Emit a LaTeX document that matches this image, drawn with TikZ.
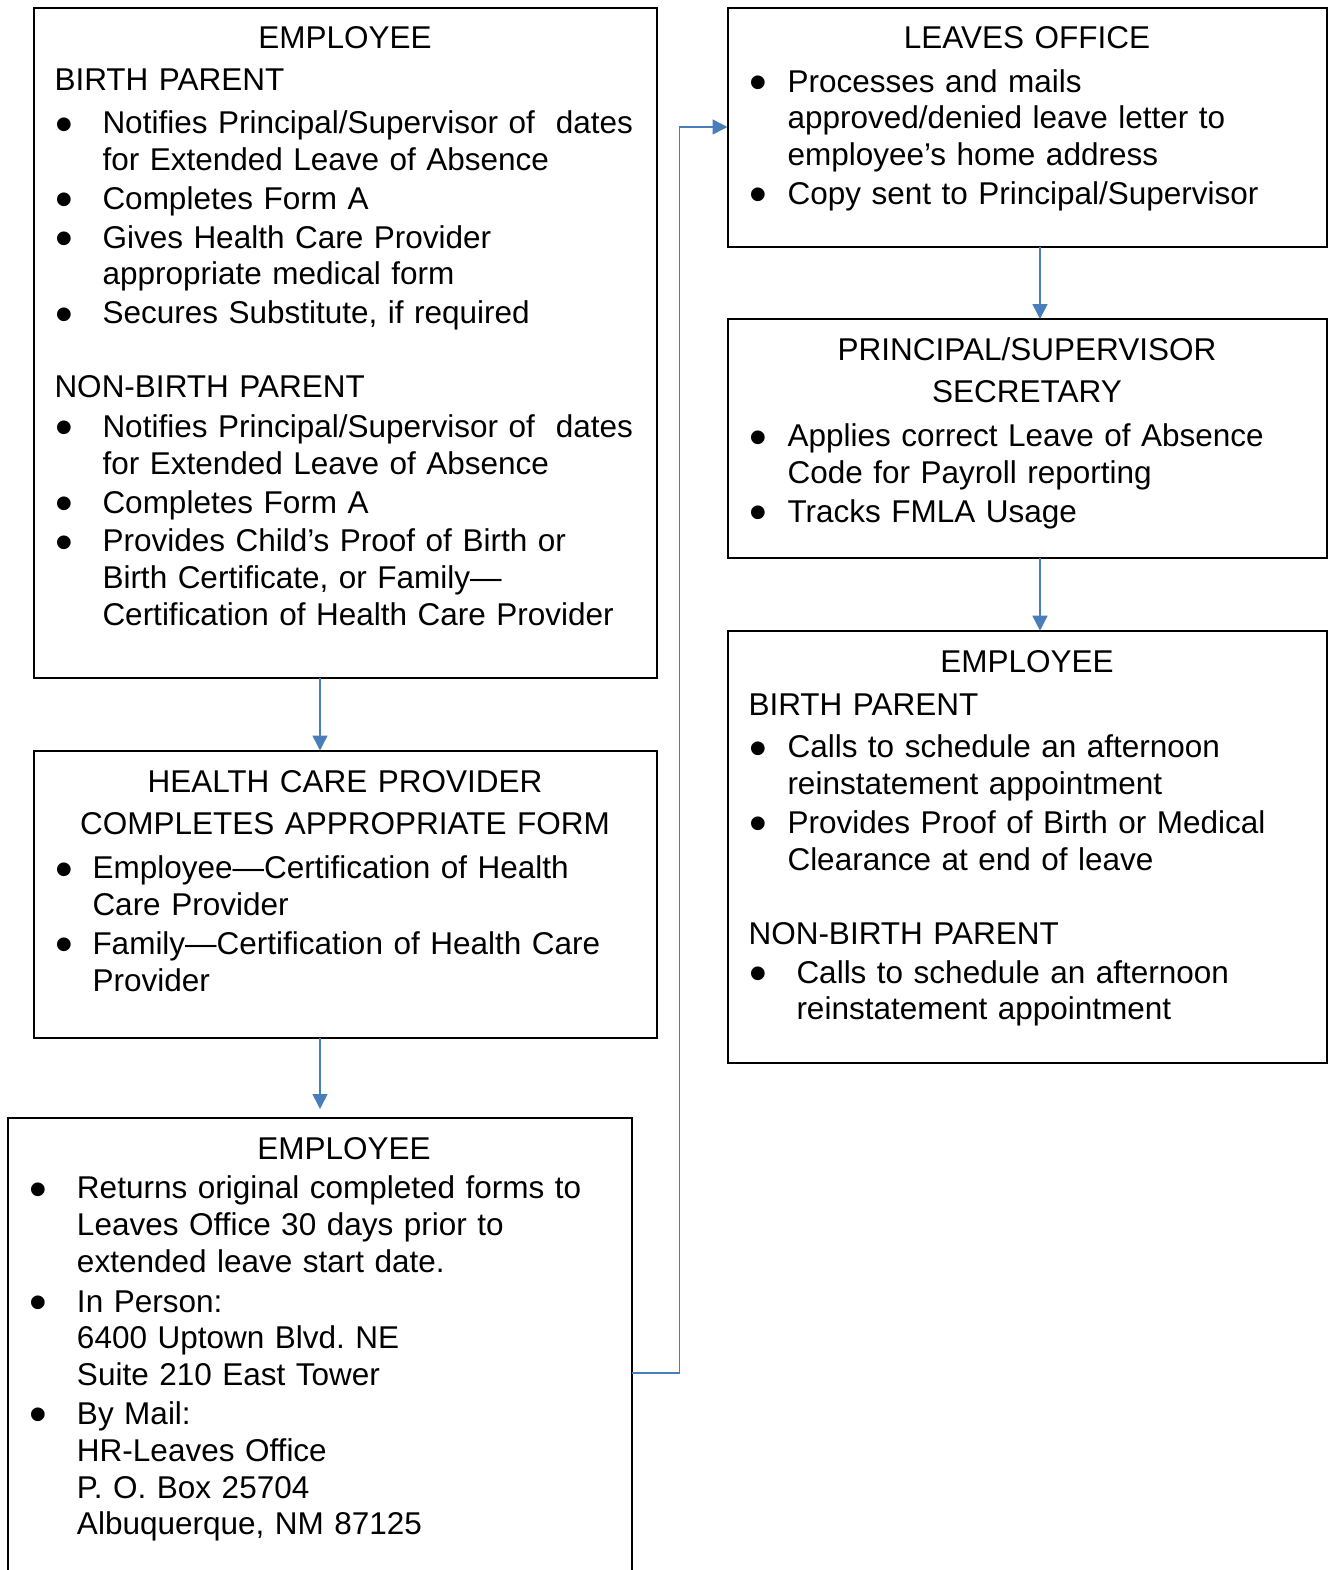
\documentclass[tikz,border=0pt]{standalone}
\usepackage{fontspec}
\setmainfont{Liberation Sans}
\usepackage{graphicx}
\usetikzlibrary{arrows.meta,positioning}
\definecolor{arrowblue}{RGB}{74,126,187}
\newcommand{\boxtitle}[2][0pt]{{\centering\leftskip=#1 plus 1fil\relax #2\par}}
\newcommand{\subhead}[1]{{\noindent #1\par}}
\newcommand{\bdot}{\hspace{0.4pt}\raisebox{-3.7pt}[6pt][0pt]{\scalebox{1.6}{\textbullet}}}
\newcommand{\bitem}[2]{{\hangindent=#1\hangafter=1\noindent\makebox[#1][l]{\bdot}#2\par}}
\begin{document}
\begin{tikzpicture}[x=0.5pt,y=-0.5pt,
    stepbox/.style={draw, line width=1pt, inner sep=0pt, outer sep=0pt, anchor=north west},
    txt/.style={anchor=base west, inner sep=0pt, outer sep=0pt, align=left, font={\fontsize{15.75}{18.4}\selectfont\frenchspacing}},
    flow/.style={draw=arrowblue, line width=0.75pt, -{Triangle[length=7.5pt,width=7.5pt]}}]
        \useasboundingbox (0,0) rectangle (1330,1570) ;
        \node[stepbox, minimum width=311.5pt, minimum height=335.25pt] (emp) at (33.5,7.5) {} ;
        \node[stepbox, minimum width=311.5pt, minimum height=143.75pt] (hcp) at (33.5,750.5) {} ;
        \node[stepbox, minimum width=312pt, minimum height=250pt] (ret) at (8,1118) {} ;
        \node[stepbox, minimum width=299.5pt, minimum height=119.5pt] (leaves) at (727.5,7.5) {} ;
        \node[stepbox, minimum width=299.5pt, minimum height=119.5pt] (sec) at (727.5,319) {} ;
        \node[stepbox, minimum width=299.5pt, minimum height=216pt] (back) at (727.5,630.7) {} ;
        \node[txt, text width=290.5pt] (empText) at ([shift={(21,40.5)}]emp.north west) {%
            \boxtitle{EMPLOYEE}
            \vspace{3pt}\subhead{BIRTH PARENT}
            \vspace{3pt}\bitem{24pt}{\mbox{Notifies Principal/Supervisor of\ \ dates}\newline for Extended Leave of Absence}
            \vspace{1pt}\bitem{24pt}{Completes Form A}
            \vspace{1pt}\bitem{24pt}{Gives Health Care Provider\newline appropriate medical form}
            \vspace{1pt}\bitem{24pt}{Secures Substitute, if required}
            \vspace{18.6pt}\subhead{NON-BIRTH PARENT}
            \vspace{1.5pt}\bitem{24pt}{\mbox{Notifies Principal/Supervisor of\ \ dates}\newline for Extended Leave of Absence}
            \vspace{1pt}\bitem{24pt}{Completes Form A}
            \vspace{1pt}\bitem{24pt}{Provides Child’s Proof of Birth or\newline Birth Certificate, or Family—\newline \mbox{Certification of Health Care Provider}}} ;
        \node[txt, text width=290.5pt] (hcpText) at ([shift={(21,41.5)}]hcp.north west) {%
            \boxtitle{HEALTH CARE PROVIDER}
            \vspace{3pt}\boxtitle{COMPLETES APPROPRIATE FORM}
            \vspace{3.5pt}\bitem{19pt}{Employee—Certification of Health\newline Care Provider}
            \vspace{1pt}\bitem{19pt}{\mbox{Family—Certification of Health Care}\newline Provider}} ;
        \node[txt, text width=291pt] (retText) at ([shift={(21,41.8)}]ret.north west) {%
            \boxtitle[24pt]{EMPLOYEE}
            \vspace{1pt}\bitem{24pt}{\mbox{Returns original completed forms to}\newline Leaves Office 30 days prior to\newline extended leave start date.}
            \vspace{1.5pt}\bitem{24pt}{In Person:\newline 6400 Uptown Blvd. NE\newline Suite 210 East Tower}
            \vspace{1pt}\bitem{24pt}{By Mail:\newline HR-Leaves Office\newline P. O. Box 25704\newline Albuquerque, NM 87125}} ;
        \node[txt, text width=278.5pt] (leavesText) at ([shift={(21,40.7)}]leaves.north west) {%
            \boxtitle{LEAVES OFFICE}
            \vspace{3.5pt}\bitem{19.5pt}{Processes and mails\newline approved/denied leave letter to\newline employee’s home address}
            \vspace{1pt}\bitem{19.5pt}{\mbox{Copy sent to Principal/Supervisor}}} ;
        \node[txt, text width=278.5pt] (secText) at ([shift={(21,41)}]sec.north west) {%
            \boxtitle{PRINCIPAL/SUPERVISOR}
            \vspace{3pt}\boxtitle{SECRETARY}
            \vspace{3.5pt}\bitem{19.5pt}{\mbox{Applies correct Leave of Absence}\newline Code for Payroll reporting}
            \vspace{1pt}\bitem{19.5pt}{Tracks FMLA Usage}} ;
        \node[txt, text width=278.5pt] (backText) at ([shift={(21,41.5)}]back.north west) {%
            \boxtitle{EMPLOYEE}
            \vspace{3pt}\subhead{BIRTH PARENT}
            \vspace{3pt}\bitem{19.5pt}{Calls to schedule an afternoon\newline reinstatement appointment}
            \vspace{1pt}\bitem{19.5pt}{\mbox{Provides Proof of Birth or Medical}\newline Clearance at end of leave}
            \vspace{18.6pt}\subhead{NON-BIRTH PARENT}
            \vspace{1pt}\bitem{24pt}{Calls to schedule an afternoon\newline reinstatement appointment}} ;
        \coordinate (retOut) at ([shift={(0,255)}]ret.north east) ;
        \draw[flow] (emp.south -| ret.north) -- (hcp.north -| ret.north) ;
        \draw[flow] (hcp.south -| ret.north) -- ([shift={(0,-9)}]ret.north) ;
        \draw[flow] (retOut) -- ++(47.5,0) |- (leaves.west) ;
        \draw[flow] ([shift={(13,0)}]leaves.south) -- ([shift={(13,0)}]sec.north) ;
        \draw[flow] ([shift={(13,0)}]sec.south) -- ([shift={(13,0)}]back.north) ;
    \end{tikzpicture}
\end{document}
